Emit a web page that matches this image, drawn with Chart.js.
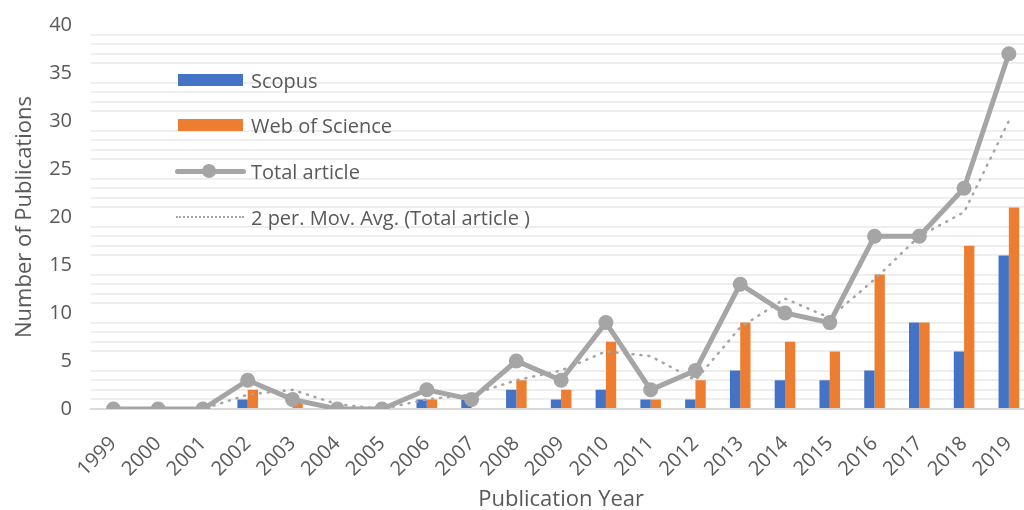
<!DOCTYPE html>
<html>
<head>
<meta charset="utf-8">
<script src="https://cdn.jsdelivr.net/npm/chart.js@4"></script>
<style>
  body { margin: 0; background: #fff; overflow: hidden; }
  #wrap { position: relative; width: 1024px; height: 510px; overflow: hidden; }
  #legend { position: absolute; left: 0; top: 0; font-family: "Open Sans", sans-serif; font-size: 20px; color: #595959; }
  .item { position: absolute; left: 175px; height: 26px; display: flex; align-items: center; white-space: nowrap; }
  .sym { width: 72px; height: 26px; position: relative; margin-right: 4px; }
</style>
</head>
<body>
<div id="wrap">
  <canvas id="chart" width="1041" height="510"></canvas>
  <div id="legend">
    <div class="item" style="top:67px"><div class="sym"><div style="position:absolute;left:3px;top:7px;width:65px;height:12px;background:#4472c4"></div></div>Scopus</div>
    <div class="item" style="top:112px"><div class="sym"><div style="position:absolute;left:3px;top:7px;width:65px;height:12px;background:#ed7d31"></div></div>Web of Science</div>
    <div class="item" style="top:158px"><div class="sym"><div style="position:absolute;left:0;top:10.5px;width:71px;height:5px;border-radius:3px;background:#a5a5a5"></div><div style="position:absolute;left:27px;top:6px;width:14px;height:14px;border-radius:7px;background:#a5a5a5"></div></div>Total article</div>
    <div class="item" style="top:204px"><div class="sym"><div style="position:absolute;left:1px;top:12px;width:68px;height:0;border-top:2.5px dotted #a5a5a5"></div></div>2 per. Mov. Avg. (Total article )</div>
  </div>
</div>
<script>
const years = ["1999", "2000", "2001", "2002", "2003", "2004", "2005", "2006", "2007", "2008", "2009",
  "2010", "2011", "2012", "2013", "2014", "2015", "2016", "2017", "2018", "2019"];
const scopus = [0, 0, 0, 1, 0, 0, 0, 1, 1, 2, 1, 2, 1, 1, 4, 3, 3, 4, 9, 6, 16];
const webOfScience = [0, 0, 0, 2, 1, 0, 0, 1, 0, 3, 2, 7, 1, 3, 9, 7, 6, 14, 9, 17, 21];
const totalArticle = [0, 0, 0, 3, 1, 0, 0, 2, 1, 5, 3, 9, 2, 4, 13, 10, 9, 18, 18, 23, 37];
const movingAvg = [null, 0, 0, 1.5, 2, 0.5, 0, 1, 1.5, 3, 4, 6, 5.5, 3, 8.5, 11.5, 9.5, 13.5, 18, 20.5, 30];

const textColor = "#595959";
const fontFamily = "'Open Sans', sans-serif";

new Chart(document.getElementById("chart"), {
  type: "bar",
  data: {
    labels: years,
    datasets: [
      { label: "Scopus", data: scopus, backgroundColor: "#4472c4", order: 3 },
      { label: "Web of Science", data: webOfScience, backgroundColor: "#ed7d31", order: 3 },
      {
        type: "line", label: "Total article", data: totalArticle, order: 2,
        borderColor: "#a5a5a5", borderWidth: 5, tension: 0,
        pointRadius: 7.5, pointBackgroundColor: "#a5a5a5", pointBorderWidth: 0,
      },
      {
        type: "line", label: "2 per. Mov. Avg. (Total article )", data: movingAvg, order: 1,
        borderColor: "#a5a5a5", borderWidth: 2.5, borderDash: [1, 7], borderCapStyle: "round",
        tension: 0, pointRadius: 0,
      },
    ],
  },
  options: {
    responsive: false,
    animation: false,
    categoryPercentage: 0.46,
    barPercentage: 1.0,
    layout: { padding: { top: 25, right: 1, left: 0, bottom: 0 } },
    plugins: { legend: { display: false }, tooltip: { enabled: false } },
    scales: {
      x: {
        grid: { display: false },
        border: { color: "#d9d9d9", width: 2 },
        ticks: {
          color: textColor, font: { family: fontFamily, size: 20 },
          minRotation: 45, maxRotation: 45, autoSkip: false, padding: 15,
        },
        title: {
          display: true, text: "Publication Year", color: textColor,
          font: { family: fontFamily, size: 22 }, padding: { top: 0, bottom: -3 },
        },
        afterFit: (scale) => { scale.height = 101; },
      },
      y: {
        min: 0, max: 40,
        border: { display: false },
        grid: {
          drawTicks: false, lineWidth: 2,
          color: (ctx) => (ctx.tick && ctx.tick.value % 5 === 0 ? "rgba(0,0,0,0)" : "#eeeeee"),
        },
        ticks: {
          stepSize: 1, autoSkip: false, padding: 19,
          color: textColor, font: { family: fontFamily, size: 20 },
          callback: (v) => (v % 5 === 0 ? v : ""),
        },
        title: {
          display: true, text: "Number of Publications", color: textColor,
          font: { family: fontFamily, size: 22 }, padding: { top: 12, bottom: 0 },
        },
        afterFit: (scale) => {
          scale.width = 91;
          scale.paddingTop = 0;
          scale.paddingBottom = 0;
        },
      },
    },
  },
});
</script>
</body>
</html>
